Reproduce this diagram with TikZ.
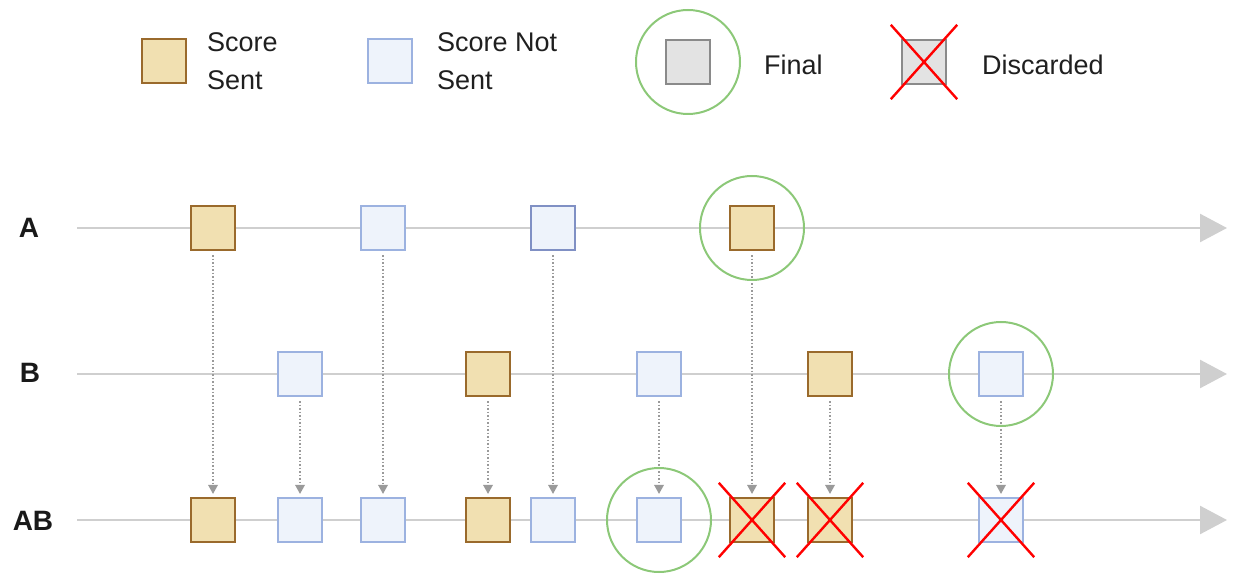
\documentclass[tikz,border=0pt]{standalone}
\usepackage{fontspec}
\setmainfont{Liberation Sans}
\usetikzlibrary{arrows.meta,shapes.misc}
\definecolor{tanfill}{HTML}{F1E0B1}
\definecolor{tanedge}{HTML}{9A6A2C}
\definecolor{bluefill}{HTML}{EEF3FB}
\definecolor{blueedge}{HTML}{9CB2E0}
\definecolor{darkblueedge}{HTML}{8090C4}
\definecolor{grayfill}{HTML}{E3E3E3}
\definecolor{grayedge}{HTML}{8A8A8A}
\definecolor{finalgreen}{HTML}{8CC878}
\definecolor{linegray}{HTML}{CFCFCF}
\definecolor{dotgray}{HTML}{9A9A9A}
\begin{document}
\begin{tikzpicture}[x=1pt,y=-1pt,
  box/.style={inner sep=0pt,minimum size=44pt,line width=2.2pt},
  sent/.style={box,draw=tanedge,fill=tanfill},
  notsent/.style={box,draw=blueedge,fill=bluefill},
  graybox/.style={box,draw=grayedge,fill=grayfill},
  finalc/.style={circle,draw=finalgreen,line width=2pt,minimum size=104pt,inner sep=0pt},
  xmark/.style={cross out,draw=red,line width=2.4pt,minimum width=64pt,minimum height=72pt,inner sep=0pt},
  timeline/.style={draw=linegray,line width=2.6pt,-{Triangle[width=28pt,length=27pt]}},
  feed/.style={draw=dotgray,line width=1.5pt,dotted,-{Triangle[width=10pt,length=9pt,line width=0pt]},shorten >=3pt,shorten <=4pt},
  legtext/.style={anchor=west,align=left,inner sep=0pt,font=\fontsize{27}{38}\selectfont,text=black!88},
  rowlabel/.style={font=\fontsize{28}{30}\selectfont\bfseries,text=black!90}
]
\useasboundingbox (0,0) rectangle (1235,577);

% legend
\node[sent] (lsent) at (164,61) {};
\node[legtext] (tsent) at (207,61) {Score\\Sent};
\node[notsent] (lnot) at (390,61) {};
\node[legtext] (tnot) at (437,61) {Score Not\\Sent};
\node[graybox] (lfin) at (688,62) {};
\node[finalc] (lfinc) at (688,62) {};
\node[legtext] (tfin) at (764,65) {Final};
\node[graybox] (ldis) at (924,62) {};
\node[xmark] (ldisx) at (924,62) {};
\node[legtext] (tdis) at (982,65) {Discarded};

% row labels
\node[rowlabel] (la) at (29,228) {A};
\node[rowlabel] (lb) at (30,373) {B};
\node[rowlabel] (lab) at (33,521) {AB};

% timelines
\coordinate (as) at (77,228); \coordinate (ae) at (1227,228);
\coordinate (bs) at (77,374); \coordinate (be) at (1227,374);
\coordinate (cs) at (77,520); \coordinate (ce) at (1227,520);
\draw[timeline] (as) -- (ae);
\draw[timeline] (bs) -- (be);
\draw[timeline] (cs) -- (ce);

% row A
\node[sent] (a1) at (213,228) {};
\node[notsent] (a2) at (383,228) {};
\node[notsent,draw=darkblueedge] (a3) at (553,228) {};
\node[sent] (a4) at (752,228) {};
% row B
\node[notsent] (b1) at (300,374) {};
\node[sent] (b2) at (488,374) {};
\node[notsent] (b3) at (659,374) {};
\node[sent] (b4) at (830,374) {};
\node[notsent] (b5) at (1001,374) {};
% row AB
\node[sent] (c1) at (213,520) {};
\node[notsent] (c2) at (300,520) {};
\node[notsent] (c3) at (383,520) {};
\node[sent] (c4) at (488,520) {};
\node[notsent] (c5) at (553,520) {};
\node[notsent] (c6) at (659,520) {};
\node[sent] (c7) at (752,520) {};
\node[sent] (c8) at (830,520) {};
\node[notsent] (c9) at (1001,520) {};

% feeds
\draw[feed] (a1.south) -- (c1.north);
\draw[feed] (a2.south) -- (c3.north);
\draw[feed] (a3.south) -- (c5.north);
\draw[feed] (a4.south) -- (c7.north);
\draw[feed] (b1.south) -- (c2.north);
\draw[feed] (b2.south) -- (c4.north);
\draw[feed] (b3.south) -- (c6.north);
\draw[feed] (b4.south) -- (c8.north);
\draw[feed] (b5.south) -- (c9.north);

% finals
\node[finalc] (fa) at (a4) {};
\node[finalc] (fb) at (b5) {};
\node[finalc] (fc) at (c6) {};

% discarded
\node[xmark] (x7) at (c7) {};
\node[xmark] (x8) at (c8) {};
\node[xmark] (x9) at (c9) {};
\end{tikzpicture}
\end{document}
